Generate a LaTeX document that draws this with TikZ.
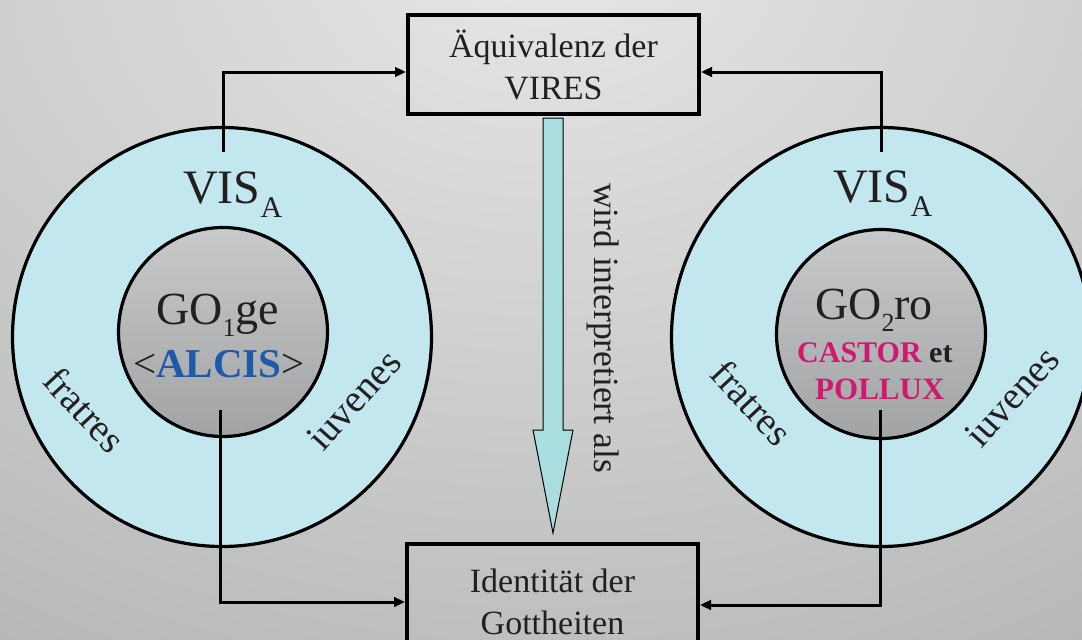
\documentclass[tikz,border=0pt]{standalone}
\usepackage{fontspec}
\setmainfont{Liberation Serif}
\usetikzlibrary{arrows.meta,calc}
\definecolor{ink}{HTML}{231F20}
\definecolor{ringfill}{HTML}{C3E7EE}
\definecolor{barrowfill}{HTML}{A9DDDF}
\definecolor{alcisblue}{HTML}{1F5AA8}
\definecolor{twinmag}{HTML}{D0186E}
\definecolor{bgtop}{HTML}{E6E7E6}
\definecolor{bgbot}{HTML}{8E8F91}
\definecolor{intop}{HTML}{C8C9CB}
\definecolor{inbot}{HTML}{A2A3A5}
\begin{document}
\begin{tikzpicture}[x=1pt,y=-1pt,
  textbox/.style={draw=black,line width=4pt,minimum width=291pt,inner sep=0pt,
    text=ink,align=center,font=\fontsize{34}{42}\selectfont},
  outerring/.style={circle,draw=black,line width=3.2pt,fill=ringfill,minimum size=419pt,inner sep=0pt},
  innerdisc/.style={circle,draw=black,line width=3.2pt,top color=intop,bottom color=inbot,minimum size=209pt,inner sep=0pt},
  conn/.style={draw=black,line width=3pt,-{Triangle[length=11pt,width=9.5pt]}},
  lbl/.style={text=ink,inner sep=0pt},
  ringlbl/.style={text=ink,inner sep=0pt,font=\fontsize{39}{39}\selectfont}]
\useasboundingbox (0,0) rectangle (1082,640);
\clip (0,0) rectangle (1082,640);
\fill[bgbot] (0,0) rectangle (1082,640);
\shade[inner color=bgtop,outer color=bgbot] (541,-50) ellipse [x radius=2000pt, y radius=1500pt];

% circles
\node[outerring] (lo) at (222,337) {};
\node[outerring] (ro) at (881,337) {};
\node[innerdisc] (li) at (223,332) {};
\node[innerdisc] (ri) at (881,334) {};

% boxes
\node[textbox,minimum height=99pt] (top) at (553.5,64.5) {Äquivalenz der\\VIRES};
\node[textbox,minimum height=116pt] (bot) at (552.5,601.5) {Identität der\\Gottheiten};

% connectors
\coordinate (lt) at (223,152);
\coordinate (rt) at (881,152);
\coordinate (lb) at (220,410);
\coordinate (rb) at (880,410);
\draw[conn] (lt) |- ([yshift=-7.5pt]top.west);
\draw[conn] (rt) |- ([yshift=-7.5pt]top.east);
\draw[conn] (lb) |- ([yshift=-0.5pt]bot.west);
\draw[conn] (rb) |- ([yshift=-3.5pt]bot.east);

% big arrow
\filldraw[fill=barrowfill,draw=black,line width=1pt]
  (543,118) -- (543,430) -- (533,430) -- (553,533) -- (573,430) -- (563,430) -- (563,118) -- cycle;
\node[lbl,rotate=-90,font=\fontsize{35.5}{35.5}\selectfont] (interp) at (603,328) {wird interpretiert als};

% left circle texts
\node[lbl,anchor=base west,font=\fontsize{48}{48}\selectfont] (lvis) at (183,203)
  {VIS\raisebox{-14pt}{\fontsize{30}{30}\selectfont A}};
\node[lbl,anchor=base west,font=\fontsize{46}{46}\selectfont] (lgo) at (156,324)
  {GO\raisebox{-12pt}{\fontsize{26}{26}\selectfont 1}ge};
\node[lbl,anchor=base west,font=\fontsize{41}{41}\selectfont] (lalc) at (133,377)
  {<\textcolor{alcisblue}{\textbf{ALCIS}}>};
\node[ringlbl,rotate=-47] (lfr) at (85,410) {fratres};
\node[ringlbl,rotate=48] (liu) at (354,400) {iuvenes};

% right circle texts
\node[lbl,anchor=base west,font=\fontsize{48}{48}\selectfont] (rvis) at (833,202)
  {VIS\raisebox{-14pt}{\fontsize{30}{30}\selectfont A}};
\node[lbl,anchor=base west,font=\fontsize{46}{46}\selectfont] (rgo) at (815,319)
  {GO\raisebox{-12pt}{\fontsize{26}{26}\selectfont 2}ro};
\node[lbl,anchor=base west,font=\fontsize{30}{30}\selectfont\bfseries] (rcas) at (797,362)
  {\textcolor{twinmag}{CASTOR} et};
\node[lbl,anchor=base west,font=\fontsize{31}{31}\selectfont\bfseries,text=twinmag] (rpol) at (815,399)
  {POLLUX};
\node[ringlbl,rotate=-47] (rfr) at (752,403) {fratres};
\node[ringlbl,rotate=48] (riu) at (1012,397) {iuvenes};
\end{tikzpicture}
\end{document}
